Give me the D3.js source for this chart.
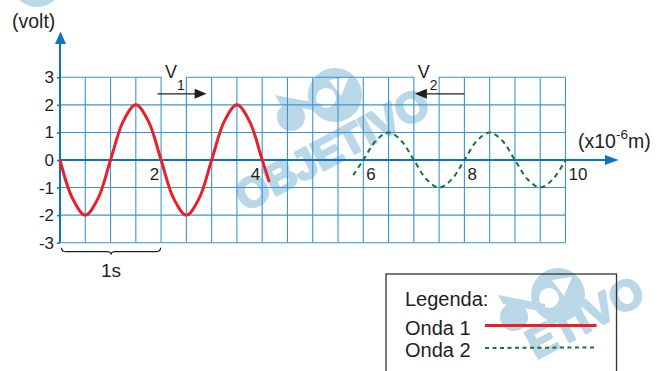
<!DOCTYPE html>
<html>
<head>
<meta charset="utf-8">
<script src="https://cdn.jsdelivr.net/npm/d3@7"></script>
<style>
  body { margin: 0; background: #fff; }
  text { font-family: "Liberation Sans", Arial, sans-serif; }
</style>
</head>
<body>
<script>
// values
var gridX = [0, 0.5, 1, 1.5, 2, 2.5, 3, 3.5, 4, 4.5, 5, 5.5, 6, 6.5, 7, 7.5, 8, 8.5, 9, 9.5, 10];
var gridY = [-3, -2, -1, 0, 1, 2, 3];
var xTickLabels = [2, 4, 6, 8, 10];

var onda1X = [0, 0.25, 0.5, 0.75, 1, 1.25, 1.5, 1.75, 2, 2.25, 2.5, 2.75, 3, 3.25, 3.5, 3.75, 4, 4.14];
var onda1Y = [0, -1.4, -2, -1.4, 0, 1.4, 2, 1.4, 0, -1.4, -2, -1.4, 0, 1.4, 2, 1.4, 0, -0.8];

var onda2X = [5.8, 6, 6.25, 6.5, 6.75, 7, 7.25, 7.5, 7.75, 8, 8.25, 8.5, 8.75, 9, 9.25, 9.5, 9.75, 10];
var onda2Y = [-0.55, 0, 0.7, 1, 0.7, 0, -0.7, -1, -0.7, 0, 0.7, 1, 0.7, 0, -0.7, -1, -0.7, 0];

var velNames = ["1", "2"];
var velCell = [2, 7];
var velFrom = [1.93, 8.0];
var velTo = [2.9, 7.02];
var velLevel = 2.4;

var legendNames = ["Onda 1", "Onda 2"];

var W = 660, H = 371;
var blue = "#3a95d3", axisBlue = "#0f73c2";
var red = "#e8202a", green = "#17733a";
var mark = "#b9d7e6";

var svg = d3.select("body").append("svg")
    .attr("width", W)
    .attr("height", H);

var x = d3.scaleLinear().domain([0, 10]).range([60, 565.5]);
var y = d3.scaleLinear().domain([-3, 3]).range([242.7, 77.3]);

// watermark logo, drawn under everything
function logo(px, py) {
    var g = svg.append("g").attr("transform", "translate(" + px + "," + py + ")");
    g.append("circle").attr("cx", 90).attr("cy", -117).attr("r", 27).attr("fill", mark);
    g.append("circle").attr("cx", 81).attr("cy", -114).attr("r", 10).attr("fill", "#fff");
    g.append("path").attr("d", "M84,-132 L104,-135 L96,-116 Z").attr("fill", "#fff");
    g.append("circle").attr("cx", 46).attr("cy", -95).attr("r", 14).attr("fill", mark);
    g.append("path").attr("d", "M30,-117 L77,-108 L77,-100 L35,-108 Z").attr("fill", mark);
    return g;
}
function markText(px, py, word, offset) {
    svg.append("text")
        .attr("transform", "translate(" + px + "," + py + ") rotate(-28)")
        .attr("x", offset)
        .attr("font-size", 42)
        .attr("font-weight", "bold")
        .attr("fill", mark)
        .attr("stroke", mark)
        .attr("stroke-width", 2.5)
        .attr("stroke-linejoin", "round")
        .text(word);
}
logo(245, 212);
markText(245, 212, "OBJETIVO", 0);
logo(468, 412);
markText(460, 400, "ETIVO", 86);
svg.append("circle").attr("cx", 37).attr("cy", -19).attr("r", 26).attr("fill", mark);
svg.append("circle").attr("cx", 35).attr("cy", -22).attr("r", 12).attr("fill", "#fff");

// grid
svg.append("g").selectAll("line")
    .data(gridX)
    .enter().append("line")
    .attr("x1", function (d) { return x(d); })
    .attr("x2", function (d) { return x(d); })
    .attr("y1", y(-3))
    .attr("y2", y(3))
    .attr("stroke", blue)
    .attr("stroke-width", 1.1);

svg.append("g").selectAll("line")
    .data(gridY)
    .enter().append("line")
    .attr("x1", x(0))
    .attr("x2", x(10))
    .attr("y1", function (d) { return y(d); })
    .attr("y2", function (d) { return y(d); })
    .attr("stroke", blue)
    .attr("stroke-width", 1.1);

// y axis ticks + labels
var yAxis = svg.append("g")
    .attr("transform", "translate(" + x(0) + ",0)")
    .call(d3.axisLeft(y).tickValues(gridY).tickSize(3).tickPadding(3)
        .tickFormat(function (d) { return String(d); }));
yAxis.select(".domain").remove();
yAxis.selectAll("line").attr("stroke", axisBlue).attr("stroke-width", 1.5);
yAxis.selectAll("text")
    .attr("font-family", "Liberation Sans, Arial, sans-serif")
    .attr("font-size", 17)
    .attr("fill", "#231f20");

// axes with arrows
svg.append("line")
    .attr("x1", x(0)).attr("x2", x(0))
    .attr("y1", y(-3)).attr("y2", 40)
    .attr("stroke", axisBlue).attr("stroke-width", 2);
svg.append("path")
    .attr("d", "M" + (x(0) + 0.5) + ",31.5 L" + (x(0) + 6) + ",44 L" + (x(0) - 5) + ",44 Z")
    .attr("fill", axisBlue);

svg.append("line")
    .attr("x1", x(0)).attr("x2", 610)
    .attr("y1", y(0)).attr("y2", y(0))
    .attr("stroke", axisBlue).attr("stroke-width", 2);
svg.append("path")
    .attr("d", "M618.5," + y(0) + " L605," + (y(0) - 5) + " L605," + (y(0) + 5) + " Z")
    .attr("fill", axisBlue);

// axis titles
svg.append("text")
    .attr("x", 12).attr("y", 27.5)
    .attr("font-size", 19.5)
    .attr("fill", "#231f20")
    .text("(volt)");

var unit = svg.append("text")
    .attr("x", 578).attr("y", 147.5)
    .attr("font-size", 19.5)
    .attr("fill", "#231f20");
unit.append("tspan").text("(x10");
unit.append("tspan").attr("dy", -9).attr("font-size", 13.5).text("-6");
unit.append("tspan").attr("dy", 9).text("m)");

// x tick labels
svg.append("g").selectAll("text")
    .data(xTickLabels)
    .enter().append("text")
    .attr("x", function (d) { return d < 5 ? x(d) - 2 : x(d) + 3; })
    .attr("y", y(0) + 19.5)
    .attr("text-anchor", function (d) { return d < 5 ? "end" : "start"; })
    .attr("font-size", 17)
    .attr("fill", "#231f20")
    .text(function (d) { return d; });

// velocity labels and arrows
velNames.forEach(function (n, i) {
    var lo = velCell[i];
    svg.append("rect")
        .attr("x", x(lo) + 0.8).attr("y", 62)
        .attr("width", x(lo + 0.5) - x(lo) - 1.6)
        .attr("height", y(3) - 62 + 1)
        .attr("fill", "#fff");

    var t = svg.append("text")
        .attr("x", x(lo) + 4).attr("y", 77.7)
        .attr("font-size", 18)
        .attr("fill", "#231f20");
    t.append("tspan").text("V");
    t.append("tspan").attr("dy", 12.3).attr("font-size", 14).text(n);

    var dir = velTo[i] > velFrom[i] ? 1 : -1;
    var tip = x(velTo[i]), yy = y(velLevel);
    svg.append("line")
        .attr("x1", x(velFrom[i])).attr("x2", tip - dir * 8)
        .attr("y1", yy).attr("y2", yy)
        .attr("stroke", "#231f20").attr("stroke-width", 1.3);
    svg.append("path")
        .attr("d", "M" + tip + "," + yy + " L" + (tip - dir * 12) + "," + (yy - 5) +
            " L" + (tip - dir * 12) + "," + (yy + 5) + " Z")
        .attr("fill", "#231f20");
});

// waves
var line = d3.line()
    .x(function (d) { return x(d[0]); })
    .y(function (d) { return y(d[1]); })
    .curve(d3.curveCatmullRom);

svg.append("path")
    .attr("d", line(d3.zip(onda1X, onda1Y)))
    .attr("fill", "none")
    .attr("stroke", red)
    .attr("stroke-width", 3);

svg.append("path")
    .attr("d", line(d3.zip(onda2X, onda2Y)))
    .attr("fill", "none")
    .attr("stroke", green)
    .attr("stroke-width", 2)
    .attr("stroke-dasharray", "5,4");

// brace "1s" under the first period
var b0 = x(0) + 1.5, b1 = x(2) - 0.5, bm = (b0 + b1) / 2, by = y(-3) + 9;
svg.append("path")
    .attr("d", "M" + b0 + "," + (by - 4) + " Q" + b0 + "," + by + " " + (b0 + 5) + "," + by +
        " L" + (bm - 4) + "," + by + " Q" + bm + "," + by + " " + bm + "," + (by + 3) +
        " Q" + bm + "," + by + " " + (bm + 4) + "," + by +
        " L" + (b1 - 5) + "," + by + " Q" + b1 + "," + by + " " + b1 + "," + (by - 4))
    .attr("fill", "none")
    .attr("stroke", "#231f20")
    .attr("stroke-width", 1.2);
svg.append("text")
    .attr("x", bm).attr("y", 276.5)
    .attr("text-anchor", "middle")
    .attr("font-size", 19)
    .attr("fill", "#231f20")
    .text("1s");

// legend
svg.append("rect")
    .attr("x", 386).attr("y", 274)
    .attr("width", 230.5).attr("height", 120)
    .attr("fill", "none")
    .attr("stroke", "#333")
    .attr("stroke-width", 1.3);
svg.append("text")
    .attr("x", 405).attr("y", 306)
    .attr("font-size", 20)
    .attr("fill", "#231f20")
    .text("Legenda:");
legendNames.forEach(function (n, i) {
    var ly = 334.5 + i * 22.5;
    svg.append("text")
        .attr("x", 405).attr("y", ly)
        .attr("font-size", 20)
        .attr("fill", "#231f20")
        .text(n);
    svg.append("line")
        .attr("x1", 485).attr("x2", 596.5)
        .attr("y1", ly - 9).attr("y2", ly - 9 + i * -0.6)
        .attr("stroke", i == 0 ? red : green)
        .attr("stroke-width", i == 0 ? 3 : 2)
        .attr("stroke-dasharray", i == 0 ? null : "4,3.5");
});
</script>
</body>
</html>
